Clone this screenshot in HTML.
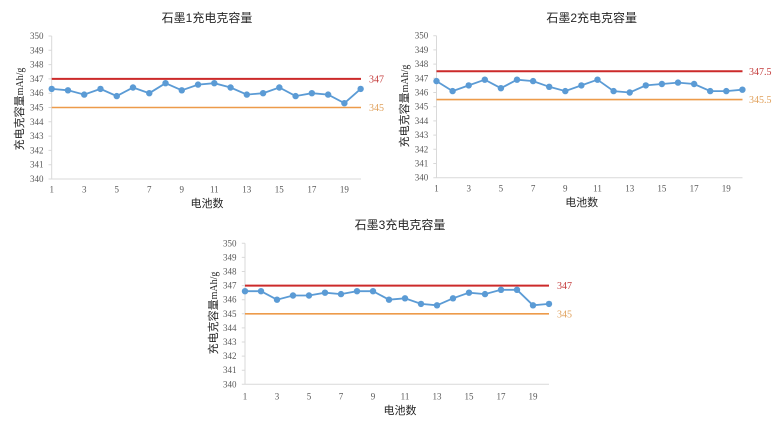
<!DOCTYPE html>
<html><head><meta charset="utf-8"><style>
html,body{margin:0;padding:0;background:#fff;}
svg{display:block;}
.t{font-family:"Liberation Sans","Noto Sans CJK SC",sans-serif;font-size:12px;fill:#262626;text-anchor:middle;}
.xl{font-family:"Liberation Sans","Noto Sans CJK SC",sans-serif;font-size:11px;fill:#262626;text-anchor:middle;}
.yl{font-family:"Liberation Sans","Noto Sans CJK SC",sans-serif;font-size:11px;fill:#262626;text-anchor:middle;}
.yl tspan.s{font-family:"Liberation Serif",serif;font-size:10px;}
.tk{font-family:"Liberation Serif",serif;font-size:9px;fill:#595959;}
.ty{text-anchor:end;}
.tx{text-anchor:middle;}
.ax{stroke:#d9d9d9;stroke-width:1;fill:none;}
.red{stroke:#cc2a2a;stroke-width:2;}
.org{stroke:#ed9b4a;stroke-width:1.6;}
.ser{stroke:#5b9bd5;stroke-width:1.8;fill:none;}
.rl{font-family:"Liberation Serif",serif;font-size:10px;fill:#c43b3b;}
.ol{font-family:"Liberation Serif",serif;font-size:10px;fill:#e0a05a;}
circle{fill:#5b9bd5;}
</style></head><body>
<svg width="780" height="424" viewBox="0 0 780 424" xmlns="http://www.w3.org/2000/svg">
<!-- Chart 1 -->
<text class="t" x="207" y="22">石墨1充电克容量</text>
<text class="yl" transform="translate(23,109) rotate(-90)">充电克容量<tspan class="s">mAh/g</tspan></text>
<g class="tk ty">
<text x="43.5" y="182">340</text><text x="43.5" y="167.7">341</text><text x="43.5" y="153.4">342</text><text x="43.5" y="139.1">343</text><text x="43.5" y="124.8">344</text><text x="43.5" y="110.5">345</text><text x="43.5" y="96.2">346</text><text x="43.5" y="81.9">347</text><text x="43.5" y="67.6">348</text><text x="43.5" y="53.3">349</text><text x="43.5" y="39">350</text>
</g>
<path class="ax" d="M51.7,36V179H361M48.5,179H51.7M48.5,164.7H51.7M48.5,150.4H51.7M48.5,136.1H51.7M48.5,121.8H51.7M48.5,107.5H51.7M48.5,93.2H51.7M48.5,78.9H51.7M48.5,64.6H51.7M48.5,50.3H51.7M48.5,36H51.7"/>
<g class="tk tx">
<text x="51.7" y="192.5">1</text><text x="84.2" y="192.5">3</text><text x="116.7" y="192.5">5</text><text x="149.3" y="192.5">7</text><text x="181.8" y="192.5">9</text><text x="214.3" y="192.5">11</text><text x="246.8" y="192.5">13</text><text x="279.3" y="192.5">15</text><text x="311.9" y="192.5">17</text><text x="344.4" y="192.5">19</text>
</g>
<text class="xl" x="207" y="207">电池数</text>
<line class="red" x1="51.7" y1="78.9" x2="361" y2="78.9"/>
<line class="org" x1="51.7" y1="107.5" x2="361" y2="107.5"/>
<text class="rl" x="369" y="82.5">347</text>
<text class="ol" x="369" y="111">345</text>
<polyline class="ser" points="51.7,88.9 67.96,90.3 84.22,94.6 100.48,88.9 116.74,96.1 133,87.5 149.26,93.2 165.52,83.2 181.78,90.3 198.04,84.6 214.3,83.2 230.56,87.5 246.82,94.6 263.08,93.2 279.34,87.5 295.6,96.1 311.86,93.2 328.12,94.6 344.38,103.2 360.64,88.9"/>
<g>
<circle cx="51.7" cy="88.9" r="3.2"/><circle cx="67.96" cy="90.3" r="3.2"/><circle cx="84.22" cy="94.6" r="3.2"/><circle cx="100.48" cy="88.9" r="3.2"/><circle cx="116.74" cy="96.1" r="3.2"/><circle cx="133" cy="87.5" r="3.2"/><circle cx="149.26" cy="93.2" r="3.2"/><circle cx="165.52" cy="83.2" r="3.2"/><circle cx="181.78" cy="90.3" r="3.2"/><circle cx="198.04" cy="84.6" r="3.2"/><circle cx="214.3" cy="83.2" r="3.2"/><circle cx="230.56" cy="87.5" r="3.2"/><circle cx="246.82" cy="94.6" r="3.2"/><circle cx="263.08" cy="93.2" r="3.2"/><circle cx="279.34" cy="87.5" r="3.2"/><circle cx="295.6" cy="96.1" r="3.2"/><circle cx="311.86" cy="93.2" r="3.2"/><circle cx="328.12" cy="94.6" r="3.2"/><circle cx="344.38" cy="103.2" r="3.2"/><circle cx="360.64" cy="88.9" r="3.2"/>
</g>

<!-- Chart 2 -->
<text class="t" x="591.7" y="22">石墨2充电克容量</text>
<text class="yl" transform="translate(408,106) rotate(-90)">充电克容量<tspan class="s">mAh/g</tspan></text>
<g class="tk ty">
<text x="428.3" y="180.7">340</text><text x="428.3" y="166.5">341</text><text x="428.3" y="152.3">342</text><text x="428.3" y="138.1">343</text><text x="428.3" y="123.9">344</text><text x="428.3" y="109.7">345</text><text x="428.3" y="95.5">346</text><text x="428.3" y="81.3">347</text><text x="428.3" y="67.1">348</text><text x="428.3" y="52.9">349</text><text x="428.3" y="38.7">350</text>
</g>
<path class="ax" d="M436.5,35.7V177.7H742.5M433.3,177.7H436.5M433.3,163.5H436.5M433.3,149.3H436.5M433.3,135.1H436.5M433.3,120.9H436.5M433.3,106.7H436.5M433.3,92.5H436.5M433.3,78.3H436.5M433.3,64.1H436.5M433.3,49.9H436.5M433.3,35.7H436.5"/>
<g class="tk tx">
<text x="436.5" y="191.5">1</text><text x="468.7" y="191.5">3</text><text x="500.9" y="191.5">5</text><text x="533.1" y="191.5">7</text><text x="565.3" y="191.5">9</text><text x="597.5" y="191.5">11</text><text x="629.7" y="191.5">13</text><text x="661.9" y="191.5">15</text><text x="694.1" y="191.5">17</text><text x="726.3" y="191.5">19</text>
</g>
<text class="xl" x="581.7" y="206">电池数</text>
<line class="red" x1="436.5" y1="71.2" x2="742.5" y2="71.2"/>
<line class="org" x1="436.5" y1="99.6" x2="742.5" y2="99.6"/>
<text class="rl" x="749" y="74.8">347.5</text>
<text class="ol" x="749" y="103.2">345.5</text>
<polyline class="ser" points="436.5,81.1 452.6,91.1 468.7,85.4 484.8,79.7 500.9,88.2 517,79.7 533.1,81.1 549.2,86.8 565.3,91.1 581.4,85.4 597.5,79.7 613.6,91.1 629.7,92.5 645.8,85.4 661.9,84 678,82.6 694.1,84 710.2,91.1 726.3,91.1 742.4,89.7"/>
<g>
<circle cx="436.5" cy="81.1" r="3.2"/><circle cx="452.6" cy="91.1" r="3.2"/><circle cx="468.7" cy="85.4" r="3.2"/><circle cx="484.8" cy="79.7" r="3.2"/><circle cx="500.9" cy="88.2" r="3.2"/><circle cx="517" cy="79.7" r="3.2"/><circle cx="533.1" cy="81.1" r="3.2"/><circle cx="549.2" cy="86.8" r="3.2"/><circle cx="565.3" cy="91.1" r="3.2"/><circle cx="581.4" cy="85.4" r="3.2"/><circle cx="597.5" cy="79.7" r="3.2"/><circle cx="613.6" cy="91.1" r="3.2"/><circle cx="629.7" cy="92.5" r="3.2"/><circle cx="645.8" cy="85.4" r="3.2"/><circle cx="661.9" cy="84" r="3.2"/><circle cx="678" cy="82.6" r="3.2"/><circle cx="694.1" cy="84" r="3.2"/><circle cx="710.2" cy="91.1" r="3.2"/><circle cx="726.3" cy="91.1" r="3.2"/><circle cx="742.4" cy="89.7" r="3.2"/>
</g>

<!-- Chart 3 -->
<text class="t" x="400" y="229">石墨3充电克容量</text>
<text class="yl" transform="translate(217,313) rotate(-90)">充电克容量<tspan class="s">mAh/g</tspan></text>
<g class="tk ty">
<text x="236.5" y="387.3">340</text><text x="236.5" y="373.2">341</text><text x="236.5" y="359.1">342</text><text x="236.5" y="345">343</text><text x="236.5" y="330.9">344</text><text x="236.5" y="316.8">345</text><text x="236.5" y="302.7">346</text><text x="236.5" y="288.6">347</text><text x="236.5" y="274.5">348</text><text x="236.5" y="260.4">349</text><text x="236.5" y="246.3">350</text>
</g>
<path class="ax" d="M245,243.3V384.3H549M241.8,384.3H245M241.8,370.2H245M241.8,356.1H245M241.8,342H245M241.8,327.9H245M241.8,313.8H245M241.8,299.7H245M241.8,285.6H245M241.8,271.5H245M241.8,257.4H245M241.8,243.3H245"/>
<g class="tk tx">
<text x="245" y="399.5">1</text><text x="277" y="399.5">3</text><text x="309" y="399.5">5</text><text x="341" y="399.5">7</text><text x="373" y="399.5">9</text><text x="405" y="399.5">11</text><text x="437" y="399.5">13</text><text x="469" y="399.5">15</text><text x="501" y="399.5">17</text><text x="533" y="399.5">19</text>
</g>
<text class="xl" x="400" y="414">电池数</text>
<line class="red" x1="245" y1="285.6" x2="549" y2="285.6"/>
<line class="org" x1="245" y1="313.8" x2="549" y2="313.8"/>
<text class="rl" x="557" y="289.2">347</text>
<text class="ol" x="557" y="317.4">345</text>
<polyline class="ser" points="245,291.2 261,291.2 277,299.7 293,295.5 309,295.5 325,292.7 341,294.1 357,291.2 373,291.2 389,299.7 405,298.3 421,303.9 437,305.3 453,298.3 469,292.7 485,294.1 501,289.8 517,289.8 533,305.3 549,303.9"/>
<g>
<circle cx="245" cy="291.2" r="3.2"/><circle cx="261" cy="291.2" r="3.2"/><circle cx="277" cy="299.7" r="3.2"/><circle cx="293" cy="295.5" r="3.2"/><circle cx="309" cy="295.5" r="3.2"/><circle cx="325" cy="292.7" r="3.2"/><circle cx="341" cy="294.1" r="3.2"/><circle cx="357" cy="291.2" r="3.2"/><circle cx="373" cy="291.2" r="3.2"/><circle cx="389" cy="299.7" r="3.2"/><circle cx="405" cy="298.3" r="3.2"/><circle cx="421" cy="303.9" r="3.2"/><circle cx="437" cy="305.3" r="3.2"/><circle cx="453" cy="298.3" r="3.2"/><circle cx="469" cy="292.7" r="3.2"/><circle cx="485" cy="294.1" r="3.2"/><circle cx="501" cy="289.8" r="3.2"/><circle cx="517" cy="289.8" r="3.2"/><circle cx="533" cy="305.3" r="3.2"/><circle cx="549" cy="303.9" r="3.2"/>
</g>
</svg>
</body></html>
